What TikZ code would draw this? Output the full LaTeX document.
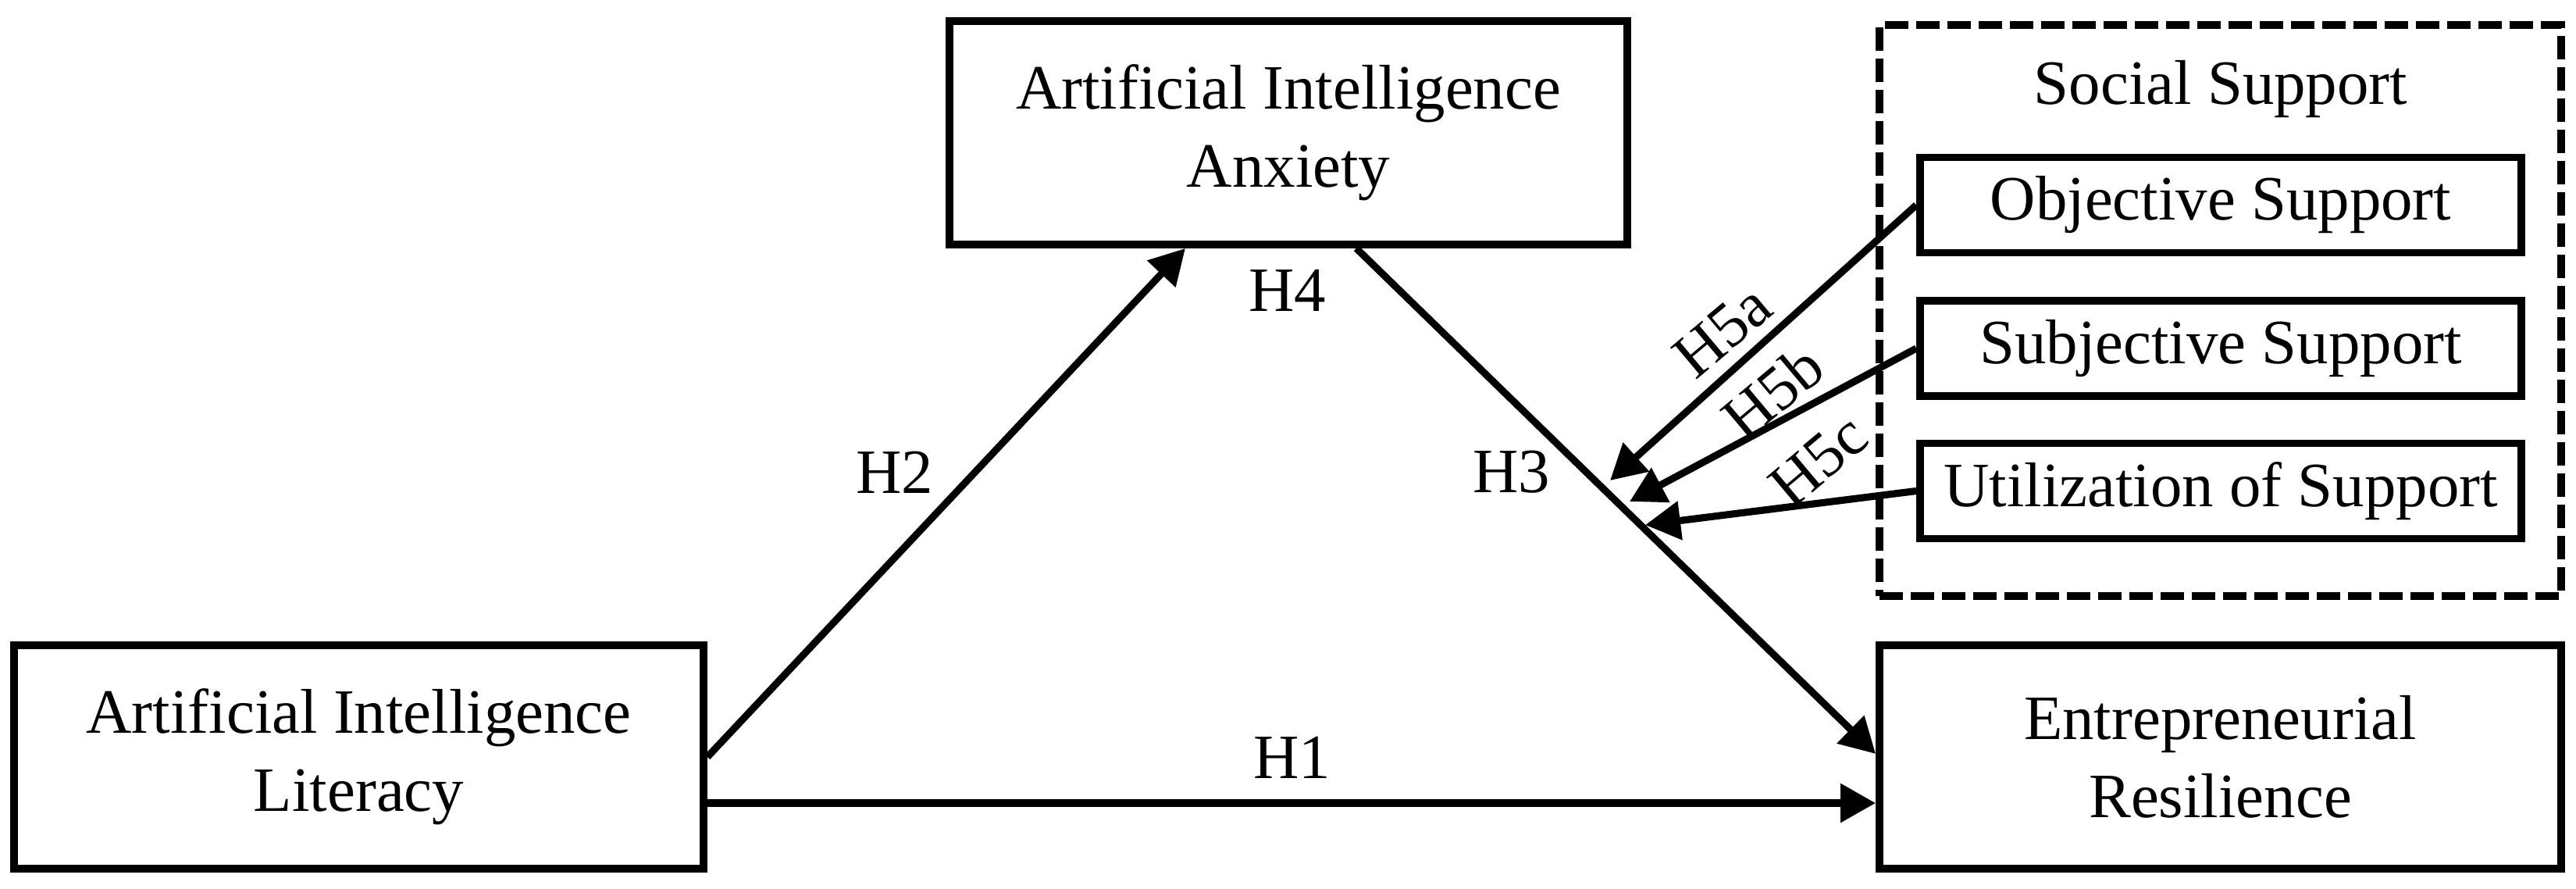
\documentclass[tikz,border=0pt]{standalone}
\usepackage{fontspec}
\setmainfont{Liberation Serif}
\usetikzlibrary{arrows.meta}
\tikzset{>={Triangle[length=0.45cm,width=0.48cm]}}
\tikzset{
  varbox/.style={draw, line width=2.8pt, minimum height=2.86cm, align=center, inner sep=0pt,
    font=\fontsize{23}{28.45}\selectfont},
  subbox/.style={draw, line width=2.8pt, minimum width=7.7cm, minimum height=1.22cm, inner sep=0pt,
    font=\fontsize{23}{28.45}\selectfont},
  hlabel/.style={inner sep=0pt, font=\fontsize{23}{28.45}\selectfont},
  arr/.style={->, line width=2.6pt},
}

\begin{document}
\begin{tikzpicture}
    \useasboundingbox (0,0) rectangle (32.99,-11.37);
    \node[varbox, minimum width=8.83cm] (AIL) at (4.595,-9.69) {Artificial Intelligence\\Literacy};
    \node[varbox, minimum width=8.68cm] (AIA) at (16.50,-1.70) {Artificial Intelligence\\Anxiety};
    \node[varbox, minimum width=8.73cm] (ER) at (28.435,-9.69) {Entrepreneurial\\Resilience};
    \node[draw, dash pattern=on 0.3cm off 0.1cm, line width=2.8pt, minimum width=8.73cm,
      minimum height=7.31cm] (SS) at (28.435,-3.975) {};
    \node[hlabel, anchor=base] (SSt) at (28.44,-1.33) {Social Support};
    \node[subbox] (OS) at (28.44,-2.625) {Objective Support};
    \node[subbox] (SuS) at (28.44,-4.46) {Subjective Support};
    \node[subbox] (US) at (28.44,-6.285) {Utilization of Support};
    \coordinate (T5a) at (20.62,-6.15);
    \coordinate (T5b) at (20.87,-6.42);
    \coordinate (T5c) at (21.07,-6.72);
    \draw[arr] ([yshift=-0.59cm]AIL.east) -- ([yshift=-0.59cm]ER.west);
    \draw[arr] (AIL.east) -- ([xshift=-1.32cm]AIA.south);
    \draw[arr] ([xshift=0.87cm]AIA.south) -- ([yshift=0.04cm]ER.west);
    \draw[arr] (OS.west) -- (T5a);
    \draw[arr] (SuS.west) -- (T5b);
    \draw[arr] (US.west) -- (T5c);
    \node[hlabel] (H1) at (16.55,-9.70) {H1};
    \node[hlabel] (H2) at (11.46,-6.05) {H2};
    \node[hlabel] (H3) at (19.36,-6.04) {H3};
    \node[hlabel] (H4) at (16.49,-3.72) {H4};
    \node[hlabel, rotate=40] (H5a) at (22.06,-4.24) {H5a};
    \node[hlabel, rotate=40] (H5b) at (22.70,-5.02) {H5b};
    \node[hlabel, rotate=40] (H5c) at (23.29,-5.90) {H5c};
\end{tikzpicture}
\end{document}
